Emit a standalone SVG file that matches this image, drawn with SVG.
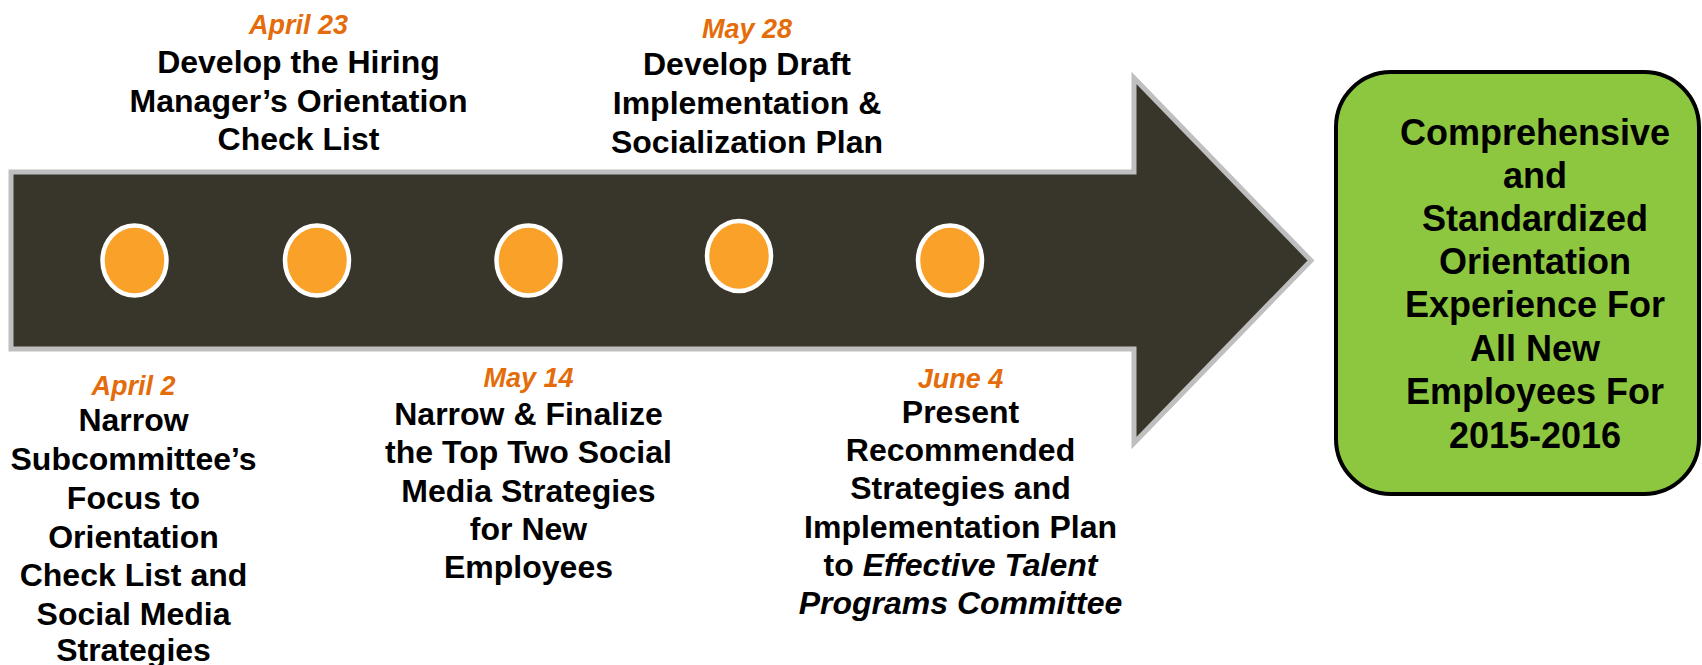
<svg xmlns="http://www.w3.org/2000/svg" width="1702" height="665" viewBox="0 0 1702 665">
<style>
text{font-family:"Liberation Sans",Arial,sans-serif;font-weight:bold;text-anchor:middle;fill:#000}
.t{font-size:32px}
.d{font-size:27px;font-style:italic;fill:#E46C0A}
.g{font-size:36px}
.i{font-style:italic}
.dot{fill:#FAA12A;stroke:#FFFFFF;stroke-width:4.5}
</style>
<rect width="1702" height="665" fill="#FFFFFF"/>
<g id="connectors">
<path id="timeline-arrow" d="M11,172 L1134,172 L1134,78 L1311,260.5 L1134,443 L1134,349 L11,349 Z" fill="#38362A" stroke="#BFBFBF" stroke-width="5"/>
</g>
<g id="m1">
<ellipse class="dot" cx="134.5" cy="260.5" rx="32" ry="35"/>
<text class="d" x="133.5" y="395">April 2</text>
<text class="t" x="133.5" y="431">Narrow</text>
<text class="t" x="133.5" y="470">Subcommittee’s</text>
<text class="t" x="133.5" y="508.5">Focus to</text>
<text class="t" x="133.5" y="547.5">Orientation</text>
<text class="t" x="133.5" y="585.5">Check List and</text>
<text class="t" x="133.5" y="624.5">Social Media</text>
<text class="t" x="133.5" y="661">Strategies</text>
</g>
<g id="m2">
<ellipse class="dot" cx="317" cy="260.5" rx="32" ry="35"/>
<text class="d" x="298.5" y="33.5">April 23</text>
<text class="t" x="298.5" y="73">Develop the Hiring</text>
<text class="t" x="298.5" y="111.5">Manager’s Orientation</text>
<text class="t" x="298.5" y="150">Check List</text>
</g>
<g id="m3">
<ellipse class="dot" cx="528.5" cy="260.5" rx="32" ry="35"/>
<text class="d" x="528.5" y="386.5">May 14</text>
<text class="t" x="528.5" y="425">Narrow &amp; Finalize</text>
<text class="t" x="528.5" y="463">the Top Two Social</text>
<text class="t" x="528.5" y="501.5">Media Strategies</text>
<text class="t" x="528.5" y="540">for New</text>
<text class="t" x="528.5" y="578">Employees</text>
</g>
<g id="m4">
<ellipse class="dot" cx="739" cy="256" rx="32" ry="35"/>
<text class="d" x="747" y="38">May 28</text>
<text class="t" x="747" y="75">Develop Draft</text>
<text class="t" x="747" y="114">Implementation &amp;</text>
<text class="t" x="747" y="152.5">Socialization Plan</text>
</g>
<g id="m5">
<ellipse class="dot" cx="950" cy="260.5" rx="32" ry="35"/>
<text class="d" x="960.5" y="387.5">June 4</text>
<text class="t" x="960.5" y="423">Present</text>
<text class="t" x="960.5" y="461">Recommended</text>
<text class="t" x="960.5" y="499">Strategies and</text>
<text class="t" x="960.5" y="537.5">Implementation Plan</text>
<text class="t" x="960.5" y="576">to <tspan class="i">Effective Talent</tspan></text>
<text class="t i" x="960.5" y="614">Programs Committee</text>
</g>
<g id="outcome">
<rect x="1336" y="72" width="363" height="422" rx="55" ry="55" fill="#8DC63F" stroke="#000000" stroke-width="4"/>
<text class="g" x="1535" y="144.5">Comprehensive</text>
<text class="g" x="1535" y="187.5">and</text>
<text class="g" x="1535" y="230.5">Standardized</text>
<text class="g" x="1535" y="273.5">Orientation</text>
<text class="g" x="1535" y="317">Experience For</text>
<text class="g" x="1535" y="360.5">All New</text>
<text class="g" x="1535" y="404">Employees For</text>
<text class="g" x="1535" y="447.5">2015-2016</text>
</g>
</svg>
